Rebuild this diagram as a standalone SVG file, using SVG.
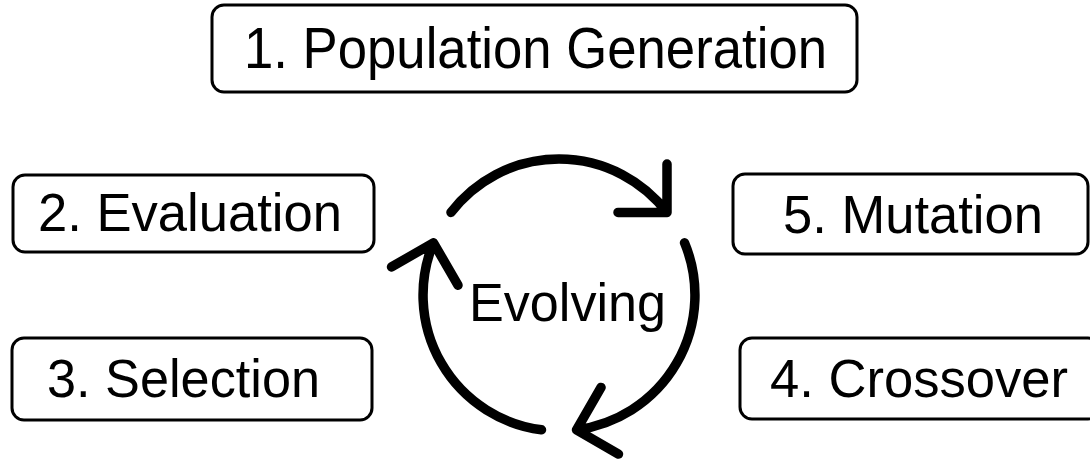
<svg xmlns="http://www.w3.org/2000/svg" width="1090" height="460" viewBox="0 0 1090 460">
<style>
.box{fill:#fff;stroke:#000;stroke-width:3}
.lbl{font-family:"Liberation Sans",Arial,sans-serif;font-size:53px;fill:#000}
.arc{fill:none;stroke:#000;stroke-width:9.5;stroke-linecap:round;stroke-linejoin:round}
</style>
<rect width="1090" height="460" fill="#fff"/>
<g id="node1"><rect class="box" x="212" y="5" width="645" height="87" rx="12"/><text class="lbl" x="244" y="68" style="font-size:58px" textLength="583" lengthAdjust="spacingAndGlyphs">1. Population Generation</text></g>
<g id="node2"><rect class="box" x="13" y="175" width="361" height="77" rx="12"/><text class="lbl" x="38" y="231" textLength="304" lengthAdjust="spacingAndGlyphs">2. Evaluation</text></g>
<g id="node3"><rect class="box" x="12" y="338" width="360" height="82" rx="12"/><text class="lbl" x="47" y="397" textLength="273" lengthAdjust="spacingAndGlyphs">3. Selection</text></g>
<g id="node4"><rect class="box" x="740" y="338" width="360" height="81" rx="12"/><text class="lbl" x="770" y="397" textLength="298" lengthAdjust="spacingAndGlyphs">4. Crossover</text></g>
<g id="node5"><rect class="box" x="733" y="174" width="355" height="80" rx="12"/><text class="lbl" x="783" y="233" textLength="260" lengthAdjust="spacingAndGlyphs">5. Mutation</text></g>
<g id="center"><text class="lbl" x="469" y="321" style="font-size:53px" textLength="197" lengthAdjust="spacingAndGlyphs">Evolving</text></g>
<g id="connectors">
<g id="cyc1"><path class="arc" d="M451,212.4 A136,136 0 0 1 667,212.4 M667,164 L667,212.4 L618,212.4"/></g>
<g id="cyc2" transform="rotate(120 559 295)"><path class="arc" d="M451,212.4 A136,136 0 0 1 667,212.4 M667,164 L667,212.4 L618,212.4"/></g>
<g id="cyc3" transform="rotate(240 559 295)"><path class="arc" d="M451,212.4 A136,136 0 0 1 667,212.4 M667,164 L667,212.4 L618,212.4"/></g>
</g>
</svg>
